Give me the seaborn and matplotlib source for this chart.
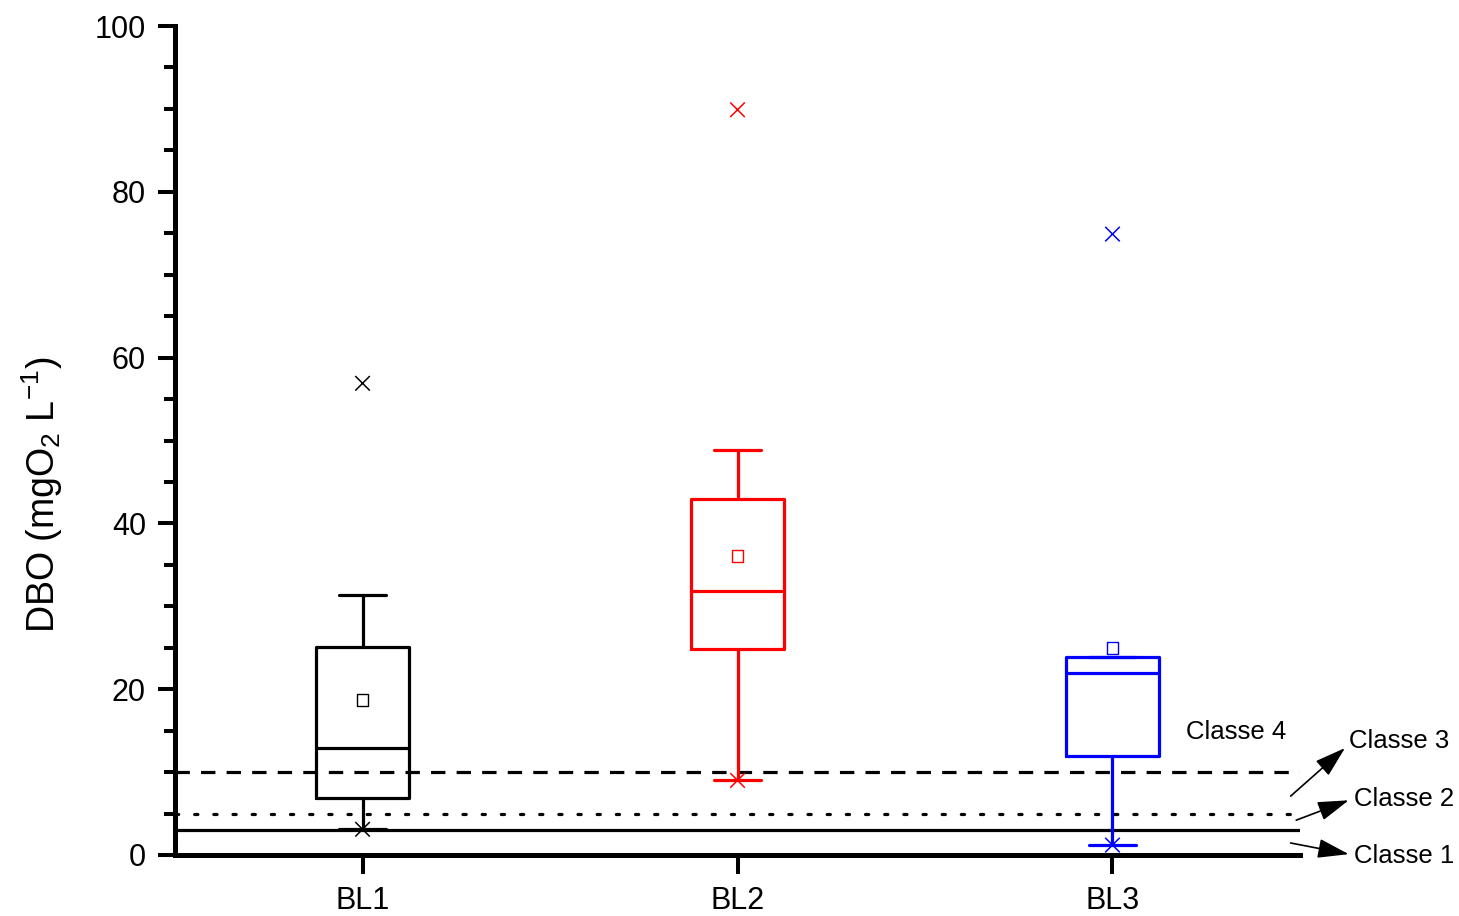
import numpy as np
import pandas as pd
import matplotlib
matplotlib.use("Agg")
import matplotlib.pyplot as plt
import seaborn as sns

# ---- data ----
sites = ["BL1", "BL2", "BL3"]
whisker_low = [3.1, 9.0, 1.2]
q1 = [6.9, 24.9, 11.9]
median = [12.9, 31.8, 21.9]
q3 = [25.1, 42.9, 23.9]
whisker_high = [31.4, 48.9, 23.9]
means = [18.7, 36.1, 25.0]
minimum = [3.1, 9.0, 1.2]
maximum = [56.9, 89.9, 74.9]
colors = ["#000000", "#FF0000", "#0000FF"]

class_levels = [3, 5, 10]
class_styles = ["-", (0, (1, 5)), (0, (4.5, 3.5))]
y_ticks = [0, 20, 40, 60, 80, 100]

# long-form table of five-number summaries, so the box/whisker edges equal the read values
rows = []
for s, lo, a, m, b, hi in zip(sites, whisker_low, q1, median, q3, whisker_high):
    for v in (lo, a, m, b, hi):
        rows.append({"site": s, "DBO": v})
df = pd.DataFrame(rows)

sns.set_theme(style="ticks")
plt.rcParams["font.family"] = ["Liberation Sans", "DejaVu Sans"]
plt.rcParams["mathtext.fontset"] = "custom"
plt.rcParams["mathtext.rm"] = "Liberation Sans"
plt.rcParams["mathtext.it"] = "Liberation Sans:italic"
for key in ["text.color", "axes.labelcolor", "xtick.color", "ytick.color",
            "xtick.labelcolor", "ytick.labelcolor", "axes.edgecolor"]:
    plt.rcParams[key] = "black"

fig = plt.figure(figsize=(14.59, 9.16), dpi=100)
ax = fig.add_axes([0.12, 0.0666, 0.771, 0.905])

# classification lines
for lvl, ls in zip(class_levels, class_styles):
    ln = ax.axhline(lvl, color="black", lw=2.3, ls=ls, zorder=1)
    if ls == class_styles[1]:
        ln.set_dash_capstyle("round")

sns.boxplot(data=df, x="site", y="DBO", hue="site", palette=colors, fill=False,
            whis=(0, 100), width=0.25, linewidth=2.3, showfliers=False,
            legend=False, ax=ax, zorder=3)

pos = np.arange(len(sites))
mean_df = pd.DataFrame({"x": pos, "y": means, "site": sites})
sns.scatterplot(data=mean_df, x="x", y="y", hue="site", palette=colors, marker="s",
                s=70, linewidth=1.0, legend=False, ax=ax, zorder=4)
coll = ax.collections[-1]
coll.set_facecolor("none")
coll.set_edgecolor(colors)

ext_df = pd.DataFrame({"x": np.concatenate([pos, pos]),
                       "y": minimum + maximum,
                       "site": sites + sites})
sns.scatterplot(data=ext_df, x="x", y="y", hue="site", palette=colors, marker="x",
                s=110, linewidth=1.1, legend=False, ax=ax, zorder=4)

ax.set_xlim(-0.5, 2.5)
ax.set_ylim(0, 100)
ax.set_yticks(y_ticks)
ax.set_yticks(np.arange(0, 101, 5), minor=True)
ax.set_xticks(pos)
ax.set_xticklabels(sites)
ax.set_xlabel("")
ax.set_ylabel(r"DBO (mgO$_{2}$ L$^{\mathregular{-1}}$)", fontsize=27, color="black")
ax.yaxis.set_label_coords(-0.098, 0.434)

for side in ["top", "right"]:
    ax.spines[side].set_visible(False)
for side in ["left", "bottom"]:
    ax.spines[side].set_linewidth(3.6)
    ax.spines[side].set_color("black")

ax.tick_params(axis="y", which="major", direction="out", length=12, width=2.9,
               labelsize=22, pad=9, color="black", labelcolor="black")
ax.tick_params(axis="y", which="minor", direction="out", length=8, width=2.9, color="black")
ax.tick_params(axis="x", which="major", direction="out", length=14, width=2.9,
               labelsize=22, pad=8, color="black", labelcolor="black")
ax.tick_params(axis="x", which="minor", bottom=False)

# class annotations
ax.text(2.195, 14.8, "Classe 4", fontsize=18.5, va="center", ha="left")
arrow = dict(arrowstyle="-|>,head_length=0.8,head_width=0.25", mutation_scale=24,
             lw=1.2, color="black", shrinkA=0, shrinkB=0)
ax.annotate("Classe 3", xy=(2.62, 12.9), xytext=(2.63, 13.8), fontsize=18.5,
            va="center", ha="left", annotation_clip=False)
ax.annotate("", xy=(2.62, 12.9), xytext=(2.475, 7.1), arrowprops=arrow, annotation_clip=False)
ax.annotate("Classe 2", xy=(2.63, 6.6), xytext=(2.645, 6.8), fontsize=18.5,
            va="center", ha="left", annotation_clip=False)
ax.annotate("", xy=(2.63, 6.6), xytext=(2.49, 4.2), arrowprops=arrow, annotation_clip=False)
ax.annotate("Classe 1", xy=(2.63, 0.1), xytext=(2.645, -0.1), fontsize=18.5,
            va="center", ha="left", annotation_clip=False)
ax.annotate("", xy=(2.63, 0.1), xytext=(2.475, 1.45), arrowprops=arrow, annotation_clip=False)

fig.savefig("out.png", dpi=100, facecolor="white")
